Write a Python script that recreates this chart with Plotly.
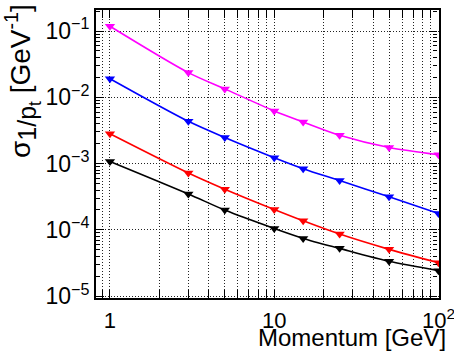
import plotly.graph_objects as go

momentum = [1, 3, 5, 10, 15, 25, 50, 100]
sigma_magenta = [0.118, 0.0236, 0.0134, 0.00623, 0.00425, 0.00268, 0.00175, 0.00136]
sigma_blue = [0.0191, 0.00435, 0.00248, 0.00123, 0.00084, 0.000555, 0.000316, 0.000177]
sigma_red = [0.00282, 0.000722, 0.000411, 0.000203, 0.000137, 0.0000865, 0.0000509, 0.000032]
sigma_black = [0.00108, 0.000349, 0.000199, 0.000105, 0.0000745, 0.0000527, 0.0000336, 0.0000243]

series = [
    ("magenta", sigma_magenta, "#ff00ff"),
    ("blue", sigma_blue, "#0000ff"),
    ("red", sigma_red, "#ff0000"),
    ("black", sigma_black, "#000000"),
]

x_major = [1, 10, 100]
x_major_text = ["1", "10", "10<sup>2</sup>"]
x_minor = [0.9] + [k for k in range(2, 10)] + [10 * k for k in range(2, 10)]
y_major = [1e-5, 1e-4, 1e-3, 1e-2, 1e-1]
y_major_text = ["10<sup>−5</sup>", "10<sup>−4</sup>", "10<sup>−3</sup>", "10<sup>−2</sup>", "10<sup>−1</sup>"]
y_minor = [m * 10 ** e for e in range(-5, 0) for m in range(2, 10)]

FONT = "Liberation Sans, Arial, sans-serif"
xrange_log = [-0.085, 2.003]
yrange_log = [-5.027, -0.683]
GRID_DASH = "1px,2px"

fig = go.Figure()
for name, vals, col in series:
    fig.add_trace(go.Scatter(
        x=momentum, y=vals, mode="lines+markers", name=name,
        line=dict(color=col, width=1.6, shape="spline", smoothing=0.8),
        marker=dict(symbol="triangle-down", size=9, color=col),
        showlegend=False, hoverinfo="skip",
    ))
# helper trace to anchor the outer right tick axis
fig.add_trace(go.Scatter(x=momentum, y=sigma_black, yaxis="y2", mode="lines",
                         opacity=0, showlegend=False, hoverinfo="skip"))

fig.update_layout(
    width=454, height=351,
    margin=dict(l=96, r=15, t=10, b=53, autoexpand=False),
    paper_bgcolor="white", plot_bgcolor="white",
    font=dict(family=FONT, color="black"),
    xaxis=dict(
        type="log", range=xrange_log, automargin=False,
        tickvals=x_major, ticktext=x_major_text,
        ticks="inside", ticklen=8, tickwidth=1, tickcolor="black",
        tickfont=dict(size=22, family=FONT), ticklabelstandoff=2,
        ticklabeloverflow="allow",
        showline=True, linecolor="black", linewidth=2, mirror="allticks",
        showgrid=True, gridcolor="#222", gridwidth=1, griddash=GRID_DASH,
        minor=dict(tickvals=x_minor, ticks="inside", ticklen=4, tickcolor="black",
                   showgrid=True, gridcolor="#222", gridwidth=1, griddash=GRID_DASH),
        zeroline=False,
    ),
    yaxis=dict(
        type="log", range=yrange_log, automargin=False,
        tickvals=y_major, ticktext=y_major_text,
        ticks="inside", ticklen=8, tickwidth=1, tickcolor="black",
        tickfont=dict(size=23, family=FONT),
        showline=True, linecolor="black", linewidth=2, mirror=True,
        showgrid=True, gridcolor="#222", gridwidth=1, griddash=GRID_DASH,
        minor=dict(tickvals=y_minor, ticks="inside", ticklen=4, tickcolor="black", showgrid=False),
        zeroline=False,
    ),
    yaxis2=dict(
        type="log", range=yrange_log, overlaying="y", anchor="free", position=0.9956,
        automargin=False,
        side="right", tickvals=y_major, ticks="inside", ticklen=8, tickwidth=1, tickcolor="black",
        showticklabels=False, showgrid=False, showline=False, zeroline=False,
        minor=dict(tickvals=y_minor, ticks="inside", ticklen=4, tickcolor="black", showgrid=False),
    ),
    annotations=[
        dict(text="Momentum [GeV]", xref="paper", yref="paper",
             x=(448 - 96) / 343, y=(298 - 337) / 288, xanchor="right", yanchor="middle",
             showarrow=False, font=dict(size=24, family=FONT)),
        dict(text="σ<sub><span style='font-size:25px'>1/p<sub>t</sub></span></sub> [GeV<sup>-1</sup>]",
             xref="paper", yref="paper",
             x=(22 - 96) / 343, y=(298 - 2) / 288, xanchor="center", yanchor="top",
             textangle=-90, showarrow=False, font=dict(size=28, family=FONT)),
    ],
)

fig.write_html("out.html")
